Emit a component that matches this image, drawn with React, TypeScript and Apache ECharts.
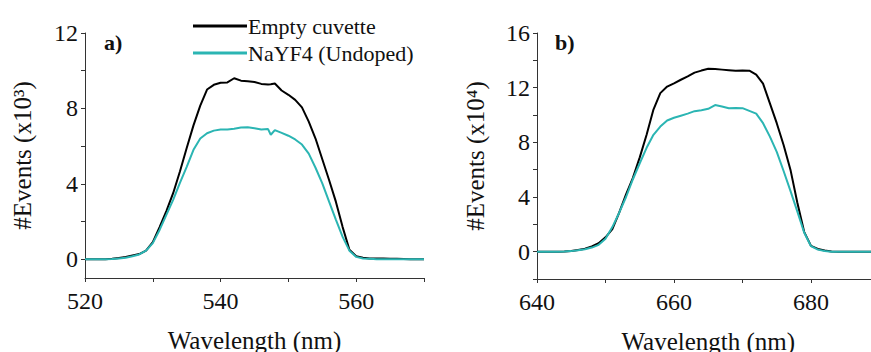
import React, { useEffect, useRef } from "react";
import * as echarts from "echarts";

// Panel a) wavelengths (nm) and counts (x10^3)
const wavelengthsA = [520,521,522,523,524,525,526,527,528,529,530,531,532,533,534,535,536,537,538,539,540,541,542,543,544,545,546,547,547.4,548,549,550,551,552,553,554,555,556,557,558,559,560,561,562,563,564,565,566,567,568,569,570];
const emptyA = [0,0,0,0,0.02,0.06,0.12,0.2,0.27,0.45,0.9,1.7,2.55,3.5,4.65,5.9,7.1,8.15,9.0,9.25,9.36,9.38,9.6,9.47,9.44,9.4,9.3,9.27,9.28,9.32,8.95,8.72,8.45,8.05,7.3,6.4,5.3,4.2,3.05,1.7,0.5,0.16,0.08,0.04,0.03,0.03,0.02,0.02,0.01,0,0,0];
const nayfA = [0,0,0,0,0.01,0.04,0.08,0.15,0.25,0.45,0.85,1.55,2.35,3.15,4.05,4.9,5.8,6.4,6.68,6.82,6.88,6.88,6.92,6.98,7.0,6.95,6.88,6.9,6.6,6.85,6.7,6.55,6.35,6.08,5.6,4.85,4.02,3.05,2.1,1.18,0.45,0.12,0.04,0.02,0,0,0,0,0,0,0,0];

// Panel b) wavelengths (nm) and counts (x10^4)
const wavelengthsB = [640,641,642,643,644,645,646,647,648,649,650,651,652,653,654,655,656,657,658,659,660,661,662,663,664,665,666,667,668,669,670,671,672,673,674,675,676,677,678,679,680,681,682,683,684,685,686,687,688,689,690];
const emptyB = [0,0,0,0,0.01,0.05,0.12,0.22,0.38,0.62,1.05,1.65,2.85,4.2,5.4,6.9,8.55,10.4,11.6,12.08,12.32,12.58,12.82,13.1,13.25,13.38,13.36,13.32,13.28,13.24,13.26,13.24,12.95,12.3,10.85,9.4,7.8,6.0,3.6,1.45,0.42,0.2,0.08,0.02,0,0,0,0,0,0,0];
const nayfB = [0,0,0,0,0.01,0.04,0.1,0.18,0.3,0.5,0.95,1.8,2.85,4.0,5.3,6.47,7.6,8.55,9.15,9.6,9.8,9.95,10.1,10.28,10.35,10.45,10.73,10.62,10.5,10.52,10.5,10.3,10.1,9.4,8.42,7.3,5.9,4.45,2.95,1.4,0.4,0.15,0.05,0,0,0,0,0,0,0,0];

const seriesNames = ["Empty cuvette", "NaYF4 (Undoped)"];
const yTicksA = [0, 2, 4, 6, 8, 10, 12];
const yLabelsA = [0, 4, 8, 12];
const yLabelsB = [0, 4, 8, 12, 16];
const yNameA = "#Events (x10\u00B3)";
const yNameB = "#Events (x10\u2074)";

const FONT = "Liberation Serif";
const BLACK = "#000000";
const CYAN = "#2bb5b3";
const AXIS = "#333333";

const zip = (xs: number[], ys: number[]) => xs.map((x, i) => [x, ys[i]]);

export default function App() {
  const ref = useRef<HTMLDivElement>(null);
  useEffect(() => {
    if (!ref.current) return;
    const chart = echarts.init(ref.current, null, { renderer: "svg" });
    const axisLineStyle = { show: true, onZero: false, lineStyle: { color: AXIS, width: 1 } };
    const tickStyle = { show: true, inside: false, length: 4, lineStyle: { color: AXIS } };
    const nameStyle = { color: "#111", fontFamily: FONT, fontSize: 25 };
    const lineSeries = (name: string, color: string, data: number[][], idx: number) => ({
      name,
      type: "line",
      xAxisIndex: idx,
      yAxisIndex: idx,
      data,
      showSymbol: false,
      symbol: "none",
      lineStyle: { color, width: 2 },
      itemStyle: { color },
      z: name === seriesNames[0] ? 2 : 3,
    });
    chart.setOption({
      animation: false,
      textStyle: { fontFamily: FONT },
      legend: {
        data: seriesNames,
        orient: "vertical",
        left: 188,
        top: 10,
        icon: "rect",
        itemWidth: 54,
        itemHeight: 3,
        itemGap: 5,
        selectedMode: false,
        textStyle: { fontFamily: FONT, fontSize: 22, color: "#111", lineHeight: 22, padding: [0, 0, 0, -4] },
      },
      graphic: [
        { type: "text", left: 104, top: 31, style: { text: "a)", fontFamily: FONT, fontWeight: "bold", fontSize: 22, fill: "#111" } },
        { type: "text", left: 555, top: 31, style: { text: "b)", fontFamily: FONT, fontWeight: "bold", fontSize: 22, fill: "#111" } },
      ],
      grid: [
        { left: 85, top: 33, width: 339, height: 245, containLabel: false, outerBoundsMode: "none" },
        { left: 537, top: 33, width: 342.5, height: 246, containLabel: false, outerBoundsMode: "none" },
      ],
      xAxis: [
        {
          type: "value",
          gridIndex: 0,
          min: 520,
          max: 570,
          interval: 10,
          axisLine: axisLineStyle,
          axisTick: tickStyle,
          splitLine: { show: false },
          axisLabel: { color: "#111", fontFamily: FONT, fontSize: 24, margin: 11, formatter: (v: number) => ((v - 520) % 20 === 0 ? String(v) : "") },
          name: "Wavelength (nm)",
          nameLocation: "middle",
          nameGap: 50,
          nameTextStyle: nameStyle,
        },
        {
          type: "value",
          gridIndex: 1,
          min: 640,
          max: 690,
          interval: 10,
          axisLine: axisLineStyle,
          axisTick: tickStyle,
          splitLine: { show: false },
          axisLabel: { color: "#111", fontFamily: FONT, fontSize: 24, margin: 11, formatter: (v: number) => ((v - 640) % 20 === 0 && v < 690 ? String(v) : "") },
          name: "Wavelength (nm)",
          nameLocation: "middle",
          nameGap: 50,
          nameTextStyle: nameStyle,
        },
      ],
      yAxis: [
        {
          type: "value",
          gridIndex: 0,
          min: -1,
          max: 12,
          axisLine: axisLineStyle,
          axisTick: { ...tickStyle, customValues: yTicksA },
          splitLine: { show: false },
          axisLabel: { color: "#111", fontFamily: FONT, fontSize: 24, margin: 7, customValues: yLabelsA },
          name: yNameA,
          nameLocation: "middle",
          nameGap: 50,
          nameTextStyle: nameStyle,
        },
        {
          type: "value",
          gridIndex: 1,
          min: -2,
          max: 16,
          interval: 2,
          axisLine: axisLineStyle,
          axisTick: tickStyle,
          splitLine: { show: false },
          axisLabel: { color: "#111", fontFamily: FONT, fontSize: 24, margin: 7, formatter: (v: number) => (yLabelsB.includes(v) ? String(v) : "") },
          name: yNameB,
          nameLocation: "middle",
          nameGap: 49,
          nameTextStyle: nameStyle,
        },
      ],
      series: [
        lineSeries(seriesNames[0], BLACK, zip(wavelengthsA, emptyA), 0),
        lineSeries(seriesNames[1], CYAN, zip(wavelengthsA, nayfA), 0),
        lineSeries(seriesNames[0], BLACK, zip(wavelengthsB, emptyB), 1),
        lineSeries(seriesNames[1], CYAN, zip(wavelengthsB, nayfB), 1),
      ],
    });
    return () => chart.dispose();
  }, []);
  return (
    <div
      ref={ref}
      style={{ position: "absolute", left: 0, top: 0, width: 871, height: 352, background: "#fff" }}
    />
  );
}
